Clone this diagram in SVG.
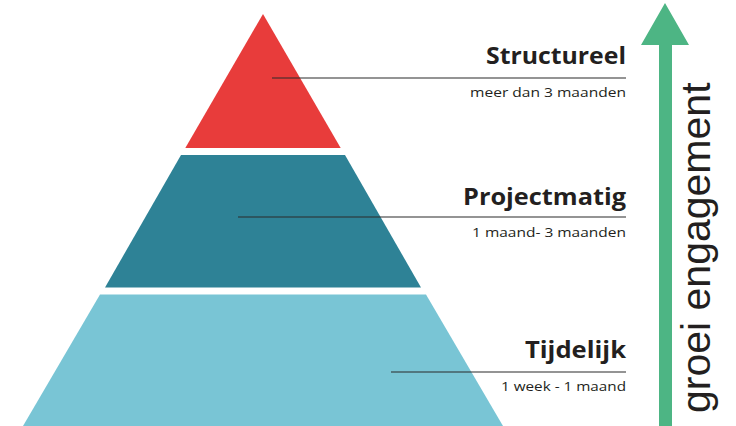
<svg xmlns="http://www.w3.org/2000/svg" width="736" height="426" viewBox="0 0 736 426">
<style>
.title{font-family:"Open Sans","Liberation Sans",sans-serif;font-weight:700;font-size:23px;fill:#231f20;text-anchor:end}
.sub{font-family:"Open Sans","Liberation Sans",sans-serif;font-weight:400;font-size:13px;fill:#231f20;text-anchor:end}
.lead{stroke:#2b2b2b;stroke-width:1.1;fill:none}
.arrowtxt{font-family:"Liberation Sans",Arial,sans-serif;font-size:41px;fill:#231f20}
</style>
<rect width="736" height="426" fill="#ffffff"/>
<g id="level-structureel">
<polygon points="263,14 340.7,148 185.3,148" fill="#e83c3b"/>
<text class="title" x="626" y="64" textLength="140" lengthAdjust="spacingAndGlyphs">Structureel</text>
<text class="sub" x="626" y="97" textLength="156" lengthAdjust="spacingAndGlyphs">meer dan 3 maanden</text>
</g>
<g id="level-projectmatig">
<polygon points="181,155 345,155 421,287.5 105,287.5" fill="#2e8296"/>
<text class="title" x="626" y="205" textLength="163" lengthAdjust="spacingAndGlyphs">Projectmatig</text>
<text class="sub" x="626" y="237" textLength="154" lengthAdjust="spacingAndGlyphs">1 maand- 3 maanden</text>
</g>
<g id="level-tijdelijk">
<polygon points="100,294.5 426,294.5 503,426 23,426" fill="#79c5d5"/>
<text class="title" x="626" y="358" textLength="101" lengthAdjust="spacingAndGlyphs">Tijdelijk</text>
<text class="sub" x="626" y="391" textLength="125" lengthAdjust="spacingAndGlyphs">1 week - 1 maand</text>
</g>
<g id="connectors">
<line class="lead" x1="272" y1="78" x2="626" y2="78"/>
<line class="lead" x1="238" y1="217" x2="626" y2="217"/>
<line class="lead" x1="391" y1="372" x2="626" y2="372"/>
</g>
<g id="arrow-engagement">
<polygon points="665,3 689,45 672,45 672,426 659,426 659,45 641,45" fill="#4db584"/>
<text class="arrowtxt" transform="translate(710,413) rotate(-90)">groei engagement</text>
</g>
</svg>
